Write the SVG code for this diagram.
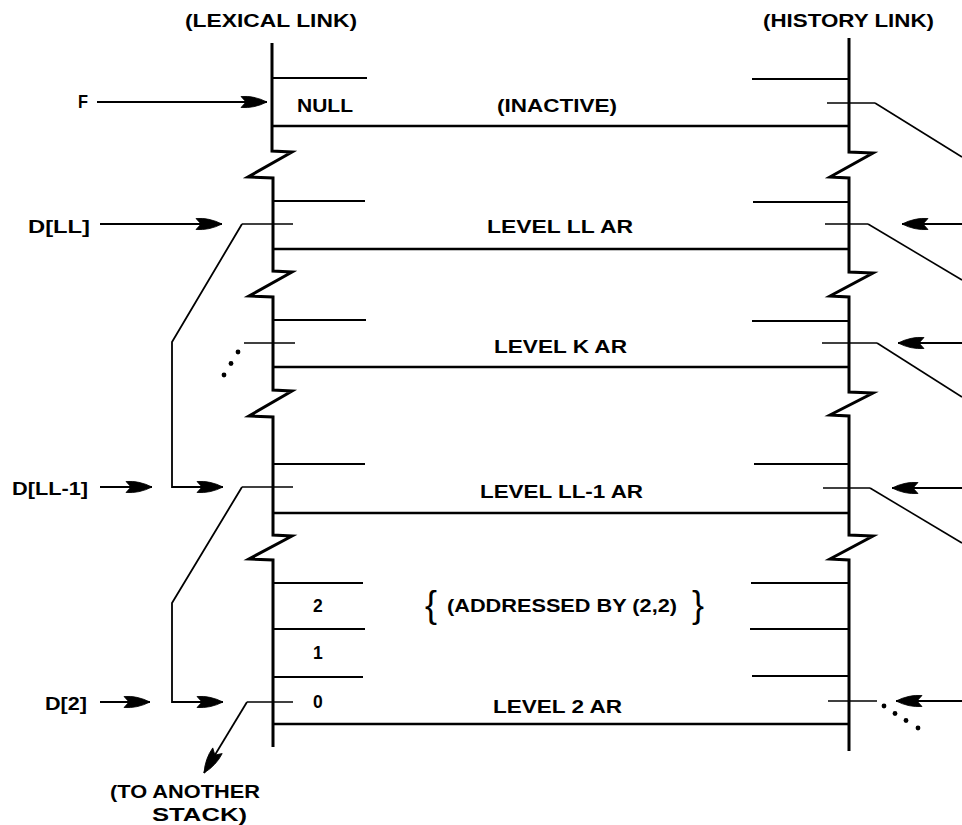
<svg xmlns="http://www.w3.org/2000/svg" width="962" height="825" viewBox="0 0 962 825">
<style>
.t{font-family:"Liberation Sans",Arial,sans-serif;font-weight:bold;font-size:17.5px;fill:#000}
.br{font-family:"Liberation Sans",Arial,sans-serif;font-weight:normal;font-size:36px;fill:#000}
.spine{fill:none;stroke:#000;stroke-width:3;stroke-linejoin:miter}
.long{stroke:#000;stroke-width:2.5;fill:none}
.short{stroke:#000;stroke-width:2.2;fill:none}
.thin{stroke:#000;stroke-width:1.6;fill:none}
.arr{stroke:#000;stroke-width:1.8;fill:none;marker-end:url(#ah)}
</style>
<defs>
<marker id="ah" markerUnits="userSpaceOnUse" markerWidth="28" markerHeight="16" refX="26" refY="8" orient="auto" overflow="visible">
<path d="M0,2.5 Q13,1.5 26,8 Q13,14.5 0,13.5 L5,8 z" fill="#000" stroke="#000" stroke-width="0.8" stroke-linejoin="round"/>
</marker>
</defs>
<rect width="962" height="825" fill="#fff"/>

<g id="titles">
<text class="t" x="185" y="27" textLength="172" lengthAdjust="spacingAndGlyphs">(LEXICAL LINK)</text>
<text class="t" x="763" y="27" textLength="171" lengthAdjust="spacingAndGlyphs">(HISTORY LINK)</text>
</g>

<g id="stack-left">
<path class="spine" d="M272,43 V151 L292,152 L248,177 L273,178 V271 L292,272 L249,296 L273,297 V390 L292,391 L249,416 L273,417 V535 L292,536 L249,559 L273,560 V747"/>
</g>
<g id="stack-right">
<path class="spine" d="M849,38 V152 L873,153 L830,177 L849,178 V272 L873,273 L830,296 L849,297 V392 L873,393 L830,415 L849,416 V535 L873,536 L830,559 L849,560 V751"/>
</g>

<g id="ar-inactive">
<line class="short" x1="272" y1="78" x2="367" y2="78"/>
<line class="short" x1="752" y1="79" x2="849" y2="79"/>
<line class="long" x1="272" y1="126" x2="849" y2="126"/>
<text class="t" x="297" y="112" textLength="56" lengthAdjust="spacingAndGlyphs">NULL</text>
<text class="t" x="497" y="112" textLength="120" lengthAdjust="spacingAndGlyphs">(INACTIVE)</text>
<line class="thin" x1="827" y1="103" x2="875" y2="103"/>
</g>

<g id="ar-ll">
<line class="short" x1="272" y1="201" x2="365" y2="201"/>
<line class="short" x1="753" y1="202" x2="849" y2="202"/>
<line class="long" x1="272" y1="249" x2="849" y2="249"/>
<line class="thin" x1="242" y1="224" x2="293" y2="224"/>
<line class="thin" x1="825" y1="224" x2="868" y2="224"/>
<text class="t" x="487" y="233" textLength="146" lengthAdjust="spacingAndGlyphs">LEVEL LL AR</text>
</g>

<g id="ar-k">
<line class="short" x1="272" y1="320" x2="366" y2="320"/>
<line class="short" x1="752" y1="321" x2="849" y2="321"/>
<line class="long" x1="272" y1="367" x2="849" y2="367"/>
<line class="thin" x1="244" y1="343" x2="295" y2="343"/>
<line class="thin" x1="822" y1="343" x2="877" y2="343"/>
<text class="t" x="494" y="353" textLength="133" lengthAdjust="spacingAndGlyphs">LEVEL K AR</text>
<circle cx="238" cy="352" r="2.4" fill="#000"/>
<circle cx="231" cy="363.5" r="2.4" fill="#000"/>
<circle cx="224" cy="375" r="2.4" fill="#000"/>
</g>

<g id="ar-ll1">
<line class="short" x1="272" y1="464" x2="365" y2="464"/>
<line class="short" x1="754" y1="464" x2="849" y2="464"/>
<line class="long" x1="272" y1="513" x2="849" y2="513"/>
<line class="thin" x1="242" y1="487" x2="293" y2="487"/>
<line class="thin" x1="823" y1="488" x2="870" y2="488"/>
<text class="t" x="480" y="498" textLength="163" lengthAdjust="spacingAndGlyphs">LEVEL LL-1 AR</text>
</g>

<g id="ar-2">
<line class="short" x1="272" y1="583" x2="363" y2="583"/>
<line class="short" x1="272" y1="629" x2="365" y2="629"/>
<line class="short" x1="272" y1="677" x2="363" y2="677"/>
<line class="short" x1="751" y1="583" x2="849" y2="583"/>
<line class="short" x1="750" y1="629" x2="849" y2="629"/>
<line class="short" x1="752" y1="676" x2="849" y2="676"/>
<line class="long" x1="272" y1="724" x2="849" y2="724"/>
<line class="thin" x1="247" y1="702" x2="293" y2="702"/>
<line class="thin" x1="828" y1="701" x2="877" y2="701"/>
<text class="t" x="313" y="612">2</text>
<text class="t" x="313" y="659">1</text>
<text class="t" x="313" y="708">0</text>
<text class="br" x="425" y="617">{</text>
<text class="t" x="447" y="612" textLength="230" lengthAdjust="spacingAndGlyphs">(ADDRESSED BY (2,2)</text>
<text class="br" x="692" y="617">}</text>
<text class="t" x="493" y="713" textLength="129" lengthAdjust="spacingAndGlyphs">LEVEL 2 AR</text>
<circle cx="884" cy="706" r="2.4" fill="#000"/>
<circle cx="895" cy="713.5" r="2.4" fill="#000"/>
<circle cx="906" cy="720.5" r="2.4" fill="#000"/>
<circle cx="918" cy="728" r="2.4" fill="#000"/>
</g>

<g id="pointers">
<text class="t" x="78" y="108" textLength="10" lengthAdjust="spacingAndGlyphs">F</text>
<text class="t" x="28" y="233" textLength="62" lengthAdjust="spacingAndGlyphs">D[LL]</text>
<text class="t" x="12" y="495" textLength="76" lengthAdjust="spacingAndGlyphs">D[LL-1]</text>
<text class="t" x="45" y="710" textLength="42" lengthAdjust="spacingAndGlyphs">D[2]</text>
<text class="t" x="110" y="798" textLength="150" lengthAdjust="spacingAndGlyphs">(TO ANOTHER</text>
<text class="t" x="152" y="821" textLength="95" lengthAdjust="spacingAndGlyphs">STACK)</text>
</g>

<g id="connectors">
<line class="arr" x1="97" y1="102" x2="267" y2="102"/>
<line class="arr" x1="100" y1="224" x2="222" y2="224"/>
<line class="arr" x1="100" y1="487" x2="152" y2="487"/>
<line class="arr" x1="100" y1="702" x2="150" y2="702"/>
<path class="arr" d="M242,224 L172,342 V487 H223"/>
<path class="arr" d="M242,487 L172,603 V702 H223"/>
<line class="arr" x1="247" y1="702" x2="204" y2="773"/>
<polyline class="thin" points="875,103 962,157"/>
<polyline class="thin" points="868,224 962,280"/>
<polyline class="thin" points="877,343 962,397"/>
<polyline class="thin" points="870,488 962,543"/>
<line class="arr" x1="962" y1="224" x2="902" y2="224"/>
<line class="arr" x1="962" y1="343" x2="898" y2="343"/>
<line class="arr" x1="962" y1="488" x2="892" y2="488"/>
<line class="arr" x1="962" y1="701" x2="896" y2="701"/>
</g>
</svg>
